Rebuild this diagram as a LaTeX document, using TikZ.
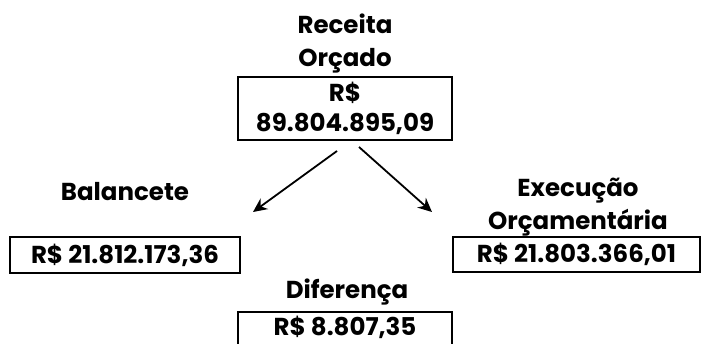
\documentclass[tikz,border=0pt]{standalone}
\usepackage{fontspec}
\setmainfont{Poppins}
\usetikzlibrary{arrows.meta}
\begin{document}
\begin{tikzpicture}[x=1pt,y=-1pt,
  lbl/.style={font=\fontsize{24.5}{33}\selectfont\bfseries, align=center, inner sep=0pt},
  valbox/.style={draw, line width=2.5pt, font=\fontsize{24.5}{30}\selectfont\bfseries, align=center, inner sep=0pt},
  valtxt/.style={font=\fontsize{24.5}{30}\selectfont\bfseries, align=center, inner sep=0pt},
  boxline/.style={draw, line width=2.5pt}]
\tikzset{arr/.style={line width=1.8pt, -{Stealth[length=14pt,width=13pt]}}}
\useasboundingbox (0,0) rectangle (704,343);
\node[lbl] (rec) at (345,43.5) {Receita\\Orçado};
\node[valbox, minimum width=214pt, minimum height=63pt] (top) at (345,108.5) {R\$\\89.804.895,09};
\node[lbl] (bal) at (125,192) {Balancete};
\node[valbox, minimum width=230pt, minimum height=36pt] (lbox) at (125,255) {R\$ 21.812.173,36};
\node[lbl] (exe) at (578,207.5) {Execução\\Orçamentária};
\node[valbox, minimum width=247pt, minimum height=35pt] (rbox) at (576.5,254.5) {R\$ 21.803.366,01};
\node[lbl] (dif) at (347,292) {Diferença};
\coordinate (btl) at (238,312);
\coordinate (bbr) at (452,352);
\path[boxline] (btl) rectangle (bbr);
\node[valtxt] (bval) at (345,327) {R\$ 8.807,35};
\coordinate (ls) at (337,151);
\coordinate (le) at (253,212);
\coordinate (rs) at (359,147);
\coordinate (re) at (432,212);
\draw[arr] (ls) -- (le);
\draw[arr] (rs) -- (re);
\end{tikzpicture}
\end{document}
